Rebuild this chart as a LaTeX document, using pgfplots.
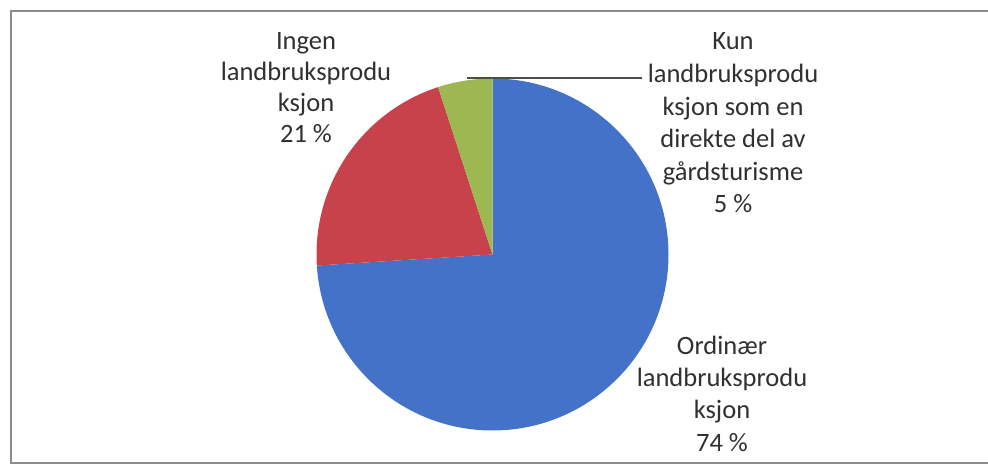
\documentclass[border=0pt]{standalone}
\usepackage{pgfplots}
\pgfplotsset{compat=1.18}
\usepackage{pgfplotstable}
\usepackage{fontspec}
\setmainfont{Carlito}
\definecolor{pieblue}{HTML}{4472C8}
\definecolor{piered}{HTML}{C8424B}
\definecolor{piegreen}{HTML}{9DB851}
\definecolor{txt}{HTML}{303030}
\pgfplotstableread{
value
74
21
5
}\piedata
\newcommand{\lblfont}{\fontsize{26.5}{32}\selectfont}
\begin{document}%
\begin{tikzpicture}[lbl/.style={anchor=base,font=\lblfont,text=txt,inner sep=0pt}]
\pgfplotstablegetelem{0}{value}\of\piedata \pgfmathsetmacro\vA{\pgfplotsretval}
\pgfplotstablegetelem{1}{value}\of\piedata \pgfmathsetmacro\vB{\pgfplotsretval}
\pgfplotstablegetelem{2}{value}\of\piedata \pgfmathsetmacro\vC{\pgfplotsretval}
\pgfmathsetmacro\aA{90-3.6*\vA}
\pgfmathsetmacro\aB{\aA-3.6*\vB}
\pgfmathsetmacro\aC{\aB-3.6*\vC}
\begin{axis}[x=1pt,y=1pt,xmin=0,xmax=988,ymin=0,ymax=466,hide axis,clip=false]
% pie wedges from table values
\fill[pieblue] (axis cs:492.5,211.5) -- ++(90:176pt) arc[start angle=90,end angle=\aA,radius=176pt] -- cycle;
\fill[piered] (axis cs:492.5,211.5) -- ++(\aA:176pt) arc[start angle=\aA,end angle=\aB,radius=176pt] -- cycle;
\fill[piegreen] (axis cs:492.5,211.5) -- ++(\aB:176pt) arc[start angle=\aB,end angle=\aC,radius=176pt] -- cycle;
% leader line
\draw[line width=1.5pt,color=black!70] (axis cs:467,388) -- (axis cs:642,388);
% frame
\draw[line width=1.2pt,color=black!45] (axis cs:988,455) -- (axis cs:11,455) -- (axis cs:11,3) -- (axis cs:988,3);
% labels
\node[lbl] at (axis cs:306,416) {Ingen};
\node[lbl] at (axis cs:306,385) {landbruksprodu};
\node[lbl] at (axis cs:306,354) {ksjon};
\node[lbl] at (axis cs:306,323) {21 \%};
\node[lbl] at (axis cs:733,416) {Kun};
\node[lbl] at (axis cs:733,383.4) {landbruksprodu};
\node[lbl] at (axis cs:733,350.8) {ksjon som en};
\node[lbl] at (axis cs:733,318.2) {direkte del av};
\node[lbl] at (axis cs:733,285.6) {gårdsturisme};
\node[lbl] at (axis cs:733,253) {5 \%};
\node[lbl] at (axis cs:722,111) {Ordinær};
\node[lbl] at (axis cs:722,79) {landbruksprodu};
\node[lbl] at (axis cs:722,47) {ksjon};
\node[lbl] at (axis cs:722,15) {74 \%};
\end{axis}
\pgfresetboundingbox
\path[use as bounding box] (0,0) rectangle (988pt,466pt);
\end{tikzpicture}%
\end{document}
